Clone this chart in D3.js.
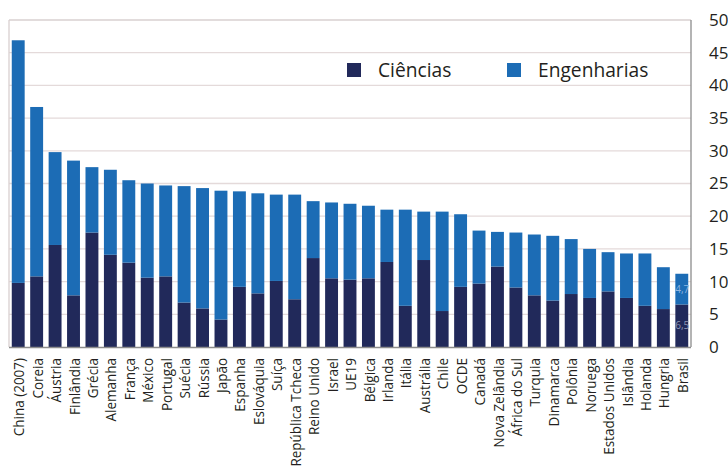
<!DOCTYPE html>
<html>
<head>
<meta charset="utf-8">
<script src="https://cdn.jsdelivr.net/npm/d3@7"></script>
<style>
  html, body { margin: 0; padding: 0; background: #ffffff; }
  svg { display: block; }
  text { font-family: "Open Sans", "Noto Sans", sans-serif; fill: #231f20; }
</style>
</head>
<body>
<svg id="chart" width="728" height="469"></svg>
<script>
// Graduates per field (Ciências / Engenharias), by country
const paises = [
  "China (2007)", "Coreia", "Áustria", "Finlândia", "Grécia", "Alemanha", "França",
  "México", "Portugal", "Suécia", "Rússia", "Japão", "Espanha", "Eslováquia", "Suíça",
  "República Tcheca", "Reino Unido", "Israel", "UE19", "Bélgica", "Irlanda", "Itália",
  "Austrália", "Chile", "OCDE", "Canadá", "Nova Zelândia", "África do Sul", "Turquia",
  "Dinamarca", "Polônia", "Noruega", "Estados Unidos", "Islândia", "Holanda", "Hungria", "Brasil"
];
const ciencias = [
  9.8, 10.8, 15.6, 7.9, 17.5, 14.1, 12.9,
  10.6, 10.8, 6.8, 5.9, 4.2, 9.2, 8.2, 10.1,
  7.3, 13.6, 10.5, 10.3, 10.5, 13.0, 6.3,
  13.3, 5.5, 9.2, 9.7, 12.3, 9.1, 7.9,
  7.1, 8.1, 7.5, 8.5, 7.5, 6.3, 5.8, 6.5
];
const engenharias = [
  37.1, 25.9, 14.2, 20.6, 10.0, 13.0, 12.6,
  14.4, 13.9, 17.8, 18.4, 19.7, 14.6, 15.3, 13.2,
  16.0, 8.7, 11.6, 11.6, 11.1, 8.0, 14.7,
  7.4, 15.2, 11.1, 8.1, 5.3, 8.4, 9.3,
  9.9, 8.4, 7.5, 6.0, 6.8, 8.0, 6.4, 4.7
];
const series = ["Ciências", "Engenharias"];
const yTicks = [0, 5, 10, 15, 20, 25, 30, 35, 40, 45, 50];
// Values printed on the last bar
const rotulados = ["Brasil"];

const cores = { "Ciências": "#21295a", "Engenharias": "#1c6cb5" };

const svg = d3.select("#chart");
const plot = { left: 9, right: 691, top: 20, bottom: 347 };

const x = d3.scaleBand()
  .domain(paises)
  .range([plot.left, plot.right])
  .paddingInner(0.3)
  .paddingOuter(0.15);

const y = d3.scaleLinear()
  .domain([0, 50])
  .range([plot.bottom, plot.top]);

const dados = paises.map((p, i) => ({ pais: p, "Ciências": ciencias[i], "Engenharias": engenharias[i] }));
const pilhas = d3.stack().keys(series)(dados);

svg.append("defs").append("clipPath").attr("id", "area")
  .append("rect")
  .attr("x", plot.left).attr("y", plot.top)
  .attr("width", plot.right - plot.left).attr("height", plot.bottom - plot.top);

// gridlines
svg.append("g")
  .selectAll("line")
  .data(yTicks.filter(t => t > 0 && t < 50))
  .join("line")
  .attr("x1", plot.left).attr("x2", plot.right)
  .attr("y1", d => y(d)).attr("y2", d => y(d))
  .attr("stroke", "#e4dada").attr("stroke-width", 1.3);

// stacked bars
svg.append("g")
  .selectAll("g")
  .data(pilhas)
  .join("g")
  .attr("fill", d => cores[d.key])
  .selectAll("rect")
  .data(d => d)
  .join("rect")
  .attr("x", d => x(d.data.pais))
  .attr("width", x.bandwidth())
  .attr("y", d => y(d[1]))
  .attr("height", d => y(d[0]) - y(d[1]));

// value labels on the highlighted bar, clipped by the frame
const rot = svg.append("g").attr("clip-path", "url(#area)");
pilhas.forEach(s => {
  s.filter(d => rotulados.includes(d.data.pais)).forEach(d => {
    rot.append("text")
      .attr("x", x(d.data.pais) + x.bandwidth() + 1)
      .attr("y", y((d[0] + d[1]) / 2))
      .attr("dy", "0.35em")
      .attr("text-anchor", "end")
      .style("font-size", "10px")
      .style("fill", s.key === "Ciências" ? "#8f97b5" : "#8fb6e0")
      .text(d3.format(".1f")(d.data[s.key]).replace(".", ","));
  });
});

// frame
svg.append("line").attr("x1", plot.left).attr("x2", plot.right).attr("y1", plot.top).attr("y2", plot.top)
  .attr("stroke", "#d9d0d0").attr("stroke-width", 1.3);
svg.append("line").attr("x1", plot.left).attr("x2", plot.left).attr("y1", plot.top).attr("y2", plot.bottom)
  .attr("stroke", "#d9d0d0").attr("stroke-width", 1.3);
svg.append("line").attr("x1", plot.right).attr("x2", plot.right).attr("y1", plot.top).attr("y2", plot.bottom)
  .attr("stroke", "#8c8c8c").attr("stroke-width", 1.3);
svg.append("line").attr("x1", plot.left).attr("x2", plot.right).attr("y1", plot.bottom + 0.5).attr("y2", plot.bottom + 0.5)
  .attr("stroke", "#8c8c8c").attr("stroke-width", 1.3);

// right-hand value axis
const eixoY = d3.axisRight(y).tickValues(yTicks).tickSize(0).tickPadding(0);
const gy = svg.append("g")
  .attr("transform", `translate(709,0)`)
  .call(eixoY);
gy.select(".domain").remove();
gy.selectAll("text")
  .attr("x", 0)
  .style("font-size", "17px")
  .style("font-family", "'Open Sans', sans-serif")
  .attr("fill", "#231f20");

// category labels, rotated
const eixoX = d3.axisBottom(x).tickSize(0).tickPadding(0);
const gx = svg.append("g").attr("transform", `translate(0,${plot.bottom})`).call(eixoX);
gx.select(".domain").remove();
gx.selectAll("text")
  .attr("y", 0)
  .attr("x", 0)
  .attr("dy", "0.35em")
  .attr("text-anchor", "end")
  .attr("transform", "translate(1,11) rotate(-90) scale(0.93,1)")
  .style("font-size", "14.5px")
  .style("font-family", "'Open Sans', sans-serif")
  .attr("fill", "#231f20");

// legend
const leg = svg.append("g");
const legPos = [{ k: "Ciências", x: 347 }, { k: "Engenharias", x: 507 }];
legPos.forEach(l => {
  leg.append("rect").attr("x", l.x).attr("y", 63).attr("width", 14).attr("height", 14).attr("fill", cores[l.k]);
  leg.append("text")
    .attr("transform", `translate(${l.x + 31},77) scale(0.96,1)`)
    .style("font-size", "20px")
    .text(l.k);
});
</script>
</body>
</html>
